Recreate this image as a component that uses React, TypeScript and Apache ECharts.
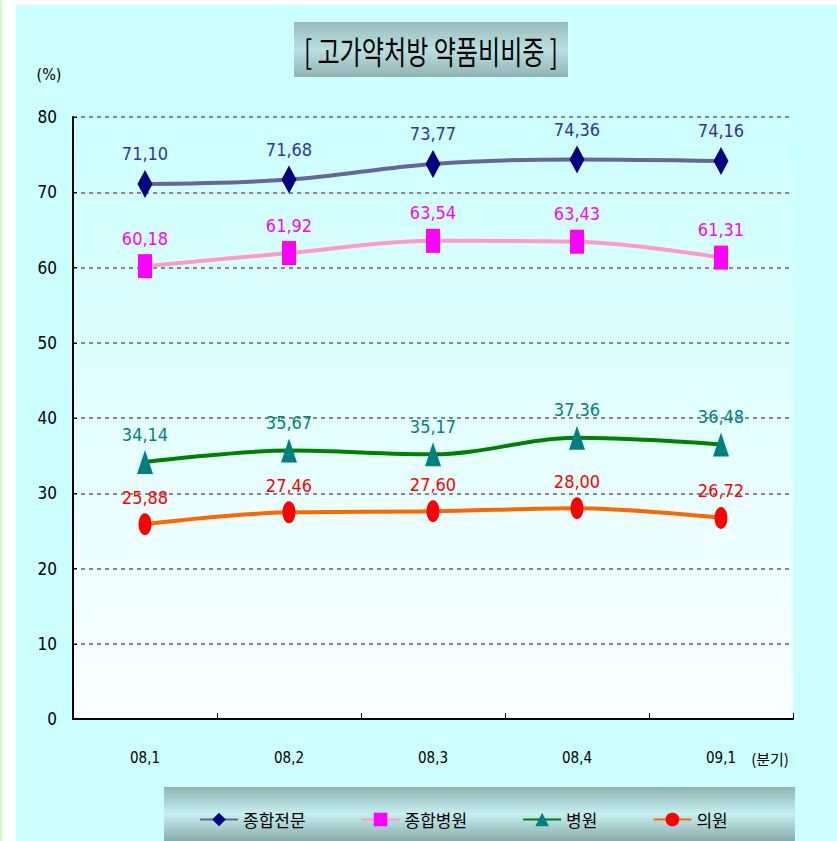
import React, { useEffect, useRef } from "react";
import * as echarts from "echarts";

const categories = ["08,1", "08,2", "08,3", "08,4", "09,1"];
const seriesNames = ["종합전문", "종합병원", "병원", "의원"];
const tertiary = [71.1, 71.68, 73.77, 74.36, 74.16];
const general = [60.18, 61.92, 63.54, 63.43, 61.31];
const hospital = [34.14, 35.67, 35.17, 37.36, 36.48];
const clinic = [25.88, 27.46, 27.6, 28.0, 26.72];
const yMin = 0;
const yMax = 80;
const yInterval = 10;
const titleText = "[ 고가약처방 약품비비중 ]";
const unitText = "(%)";
const periodText = "(분기)";

const NARROW = "'Liberation Sans Narrow', 'DejaVu Sans Condensed', 'Noto Sans CJK KR', sans-serif";
const KR = "'Noto Sans CJK KR', sans-serif";

function makeSeries(
  name: string,
  data: number[],
  lineColor: string,
  markerColor: string,
  labelColor: string,
  symbol: string,
  symbolSize: number[]
) {
  return {
    name,
    type: "line",
    data,
    smooth: 0.35,
    symbol,
    symbolSize,
    showAllSymbol: true,
    lineStyle: { color: lineColor, width: 4 },
    itemStyle: { color: markerColor },
    label: {
      show: true,
      position: "top",
      distance: 7,
      color: labelColor,
      fontSize: 18,
      fontFamily: NARROW,
      formatter: (p: any) => Number(p.value).toFixed(2).replace(".", ","),
    },
    emphasis: { disabled: true },
    z: 5,
  };
}

export default function App() {
  const ref = useRef<HTMLDivElement>(null);

  useEffect(() => {
    document.body.style.margin = "0";
    if (!ref.current) return;
    const chart = echarts.init(ref.current, null, { renderer: "svg" });
    const boxGrad = (a: string, b: string, c: string) =>
      new echarts.graphic.LinearGradient(0, 0, 0, 1, [
        { offset: 0, color: a },
        { offset: 0.5, color: b },
        { offset: 1, color: c },
      ]);
    chart.setOption({
      animation: false,
      backgroundColor: "#ccffff",
      grid: {
        left: 73,
        top: 117,
        right: 44,
        bottom: 122,
        show: true,
        borderWidth: 0,
        backgroundColor: new echarts.graphic.LinearGradient(0, 0, 0, 1, [
          { offset: 0, color: "#ccffff" },
          { offset: 1, color: "#fbffff" },
        ]),
      },
      xAxis: {
        type: "category",
        data: categories,
        boundaryGap: true,
        axisLine: { show: true, lineStyle: { color: "#000000", width: 2 } },
        axisTick: { show: true, inside: true, length: 6, alignWithLabel: false, lineStyle: { color: "#000000", width: 1 } },
        axisLabel: { color: "#000000", fontSize: 15, fontFamily: NARROW, margin: 31 },
        splitLine: { show: false },
      },
      yAxis: {
        type: "value",
        min: yMin,
        max: yMax,
        interval: yInterval,
        axisLine: { show: true, lineStyle: { color: "#000000", width: 2 } },
        axisTick: { show: true, inside: true, length: 4, lineStyle: { color: "#000000" } },
        axisLabel: { color: "#000000", fontSize: 17, fontFamily: NARROW, margin: 16 },
        splitLine: { show: true, lineStyle: { color: "#888888", width: 2, type: [4, 4] } },
      },
      legend: {
        data: seriesNames,
        left: 194,
        top: 806,
        itemWidth: 38,
        itemHeight: 17,
        itemGap: 55,
        textStyle: { color: "#000000", fontSize: 17, fontFamily: KR },
        z: 10,
      },
      graphic: [
        { type: "rect", shape: { x: 0, y: 0, width: 16, height: 841 }, style: { fill: "#ffffff" }, z: 1, silent: true },
        { type: "rect", shape: { x: 0, y: 0, width: 837, height: 5 }, style: { fill: "#ffffff" }, z: 1, silent: true },
        { type: "rect", shape: { x: 0, y: 0, width: 2, height: 841 }, style: { fill: "#ccffcc" }, z: 1, silent: true },
        {
          type: "rect",
          shape: { x: 294, y: 22, width: 274, height: 55 },
          style: { fill: boxGrad("#98bcbc", "#b9e0e0", "#92b3b3") },
          z: 1,
          silent: true,
        },
        {
          type: "text",
          x: 431,
          y: 50,
          scaleX: 0.86,
          scaleY: 1.15,
          style: {
            text: titleText,
            fill: "#000000",
            fontSize: 28,
            fontFamily: KR,
            align: "center",
            verticalAlign: "middle",
          },
          z: 2,
          silent: true,
        },
        {
          type: "text",
          x: 49,
          y: 74,
          style: { text: unitText, fill: "#000000", fontSize: 16, fontFamily: NARROW, align: "center", verticalAlign: "middle" },
          z: 2,
          silent: true,
        },
        {
          type: "text",
          x: 770,
          y: 758,
          style: { text: periodText, fill: "#000000", fontSize: 15, fontFamily: KR, align: "center", verticalAlign: "middle" },
          z: 2,
          silent: true,
        },
        {
          type: "rect",
          shape: { x: 164, y: 787, width: 631, height: 54 },
          style: { fill: boxGrad("#8fb4b4", "#c6f0f0", "#8aaaaa") },
          z: 1,
          silent: true,
        },
      ],
      series: [
        makeSeries(seriesNames[0], tertiary, "#666699", "#000080", "#333399", "diamond", [15, 28]),
        makeSeries(seriesNames[1], general, "#ff99cc", "#ff00ff", "#ff00ff", "rect", [14, 24]),
        makeSeries(seriesNames[2], hospital, "#008000", "#008080", "#008080", "triangle", [16, 24]),
        makeSeries(seriesNames[3], clinic, "#ff6600", "#ff0000", "#ff0000", "circle", [13, 22]),
      ],
    });
    return () => chart.dispose();
  }, []);

  return <div ref={ref} style={{ width: 837, height: 841 }} />;
}
